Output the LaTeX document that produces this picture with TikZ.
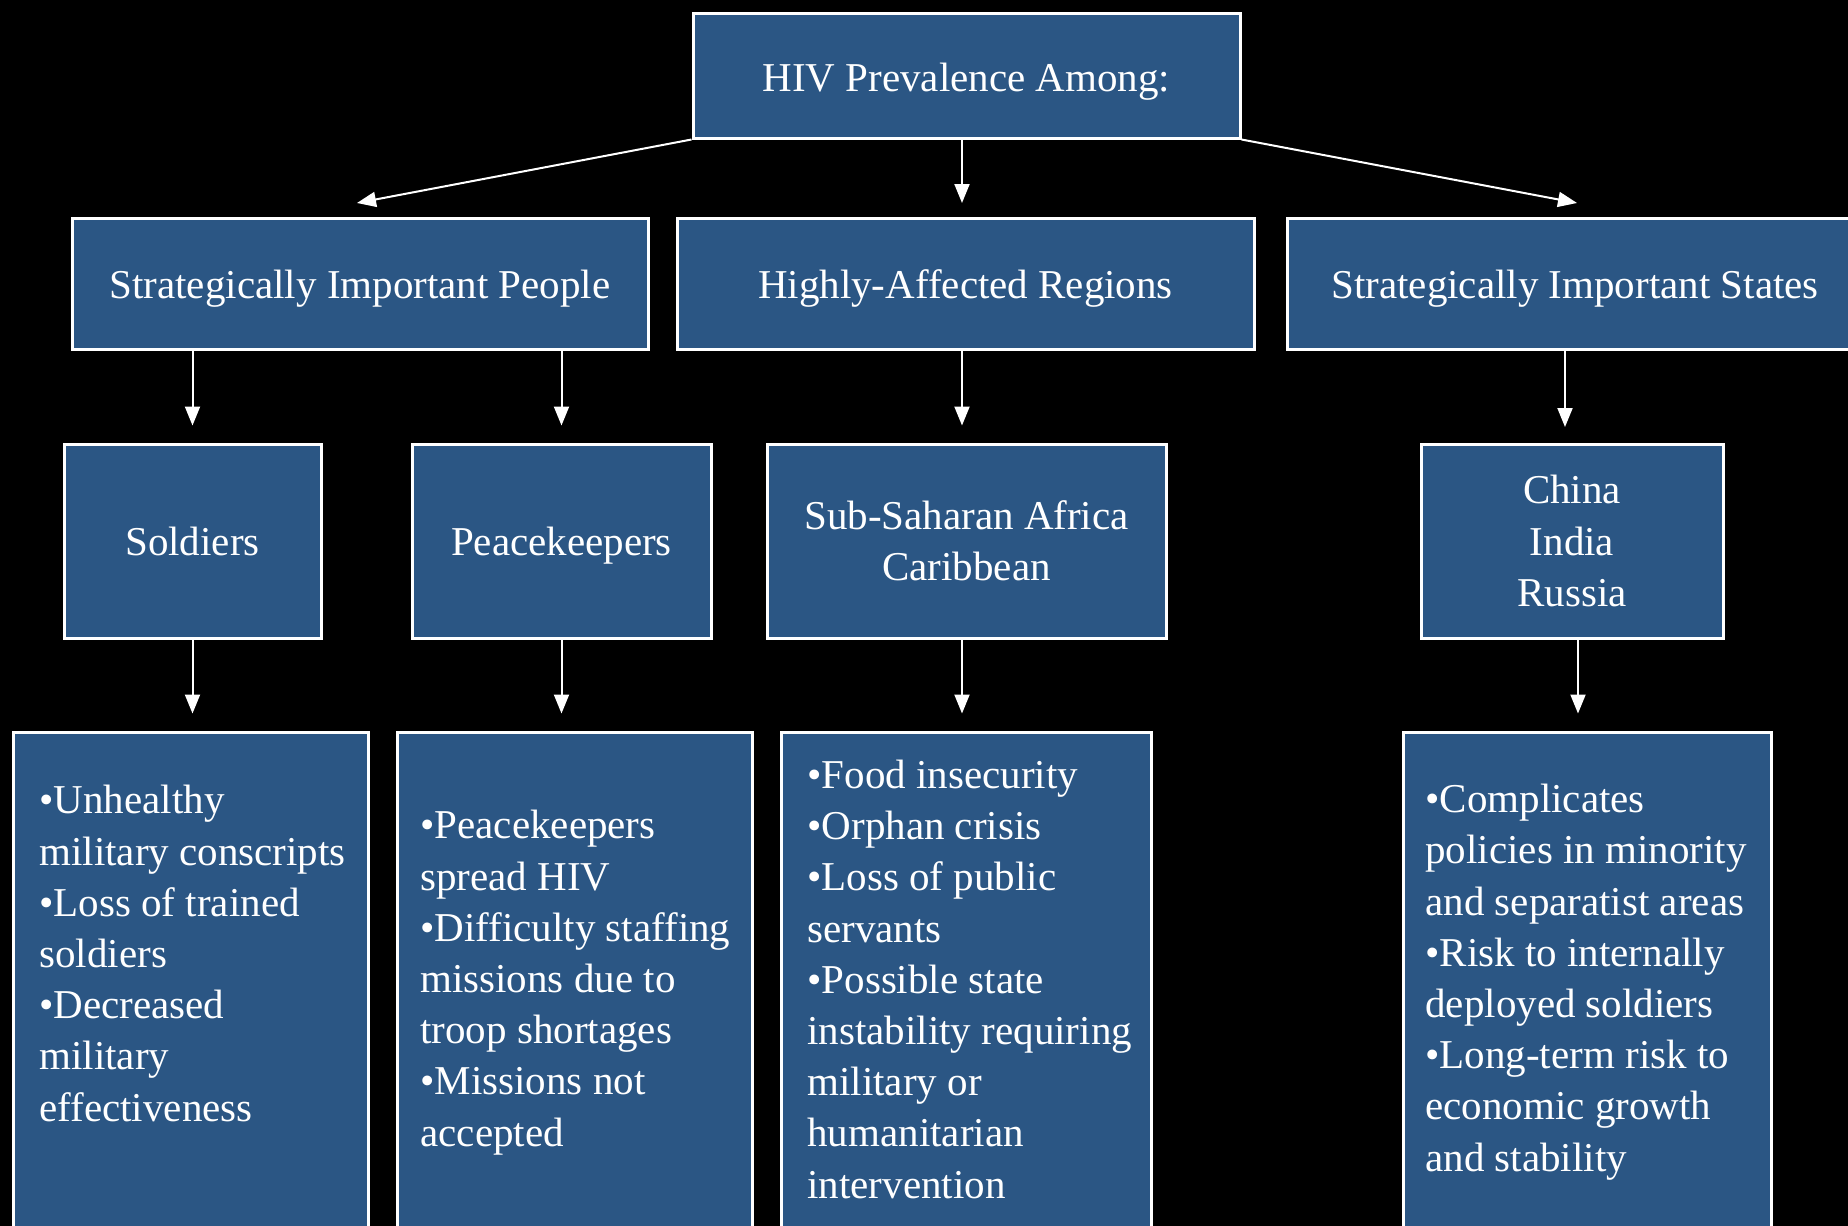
\documentclass[tikz,border=0pt]{standalone}
\usepackage{fontspec}
\setmainfont{Liberation Serif}
\usetikzlibrary{arrows.meta}
\definecolor{boxblue}{HTML}{2B5684}
\tikzset{
  box/.style={draw=white, line width=1.5pt, fill=boxblue, inner sep=0pt,
    text=white, align=center, font=\fontsize{20.5}{25.6}\selectfont},
  txt/.style={text=white, align=left, inner sep=0pt, anchor=base west,
    font=\fontsize{20.5}{25.6}\selectfont},
  arr/.style={draw=white, line width=1pt, -{Triangle[width=7.5pt,length=9.5pt]}},
}
\begin{document}
\begin{tikzpicture}[x=0.5pt,y=-0.5pt]
\useasboundingbox (0,0) rectangle (1848,1226);
\fill[black] (0,0) rectangle (1848,1226);
\clip (0,0) rectangle (1848,1226);

% level 1
\node[box, minimum width=273.5pt, minimum height=62.5pt] (top) at (966.5,75.5) {};
\node[txt, anchor=base] (toptext) at (966.5,91) {HIV Prevalence Among:};

% level 2
\node[box, minimum width=288pt, minimum height=65.5pt] (sip) at (360,283.5) {};
\node[box, minimum width=288.5pt, minimum height=65.5pt] (har) at (965.5,283.5) {};
\node[box, minimum width=287.5pt, minimum height=65.5pt] (sis) at (1575,283.5) {};
\node[txt, anchor=base] (siptext) at (360,298) {Strategically Important People};
\node[txt, anchor=base] (hartext) at (965.5,298) {Highly-Affected Regions};
\node[txt, anchor=base] (sistext) at (1575,298) {Strategically Important States};

% level 3
\node[box, minimum width=128.5pt, minimum height=97pt] (sold) at (192.5,541) {Soldiers};
\node[box, minimum width=149.5pt, minimum height=97pt] (peace) at (561.5,541) {};
\node[txt, anchor=base] (peacetext) at (561.5,555) {Peacekeepers};
\node[box, minimum width=199.5pt, minimum height=97pt] (ssa) at (966.5,541) {Sub-Saharan Africa\\Caribbean};
\node[box, minimum width=151pt, minimum height=97pt] (china) at (1572,541) {China\\India\\Russia};

% level 4
\node[box, minimum width=177.5pt, minimum height=256.5pt] (b1) at (190.5,988.5) {};
\node[box, minimum width=177.5pt, minimum height=256.5pt] (b2) at (574.5,988.5) {};
\node[box, minimum width=185pt, minimum height=256.5pt] (b3) at (966,988.5) {};
\node[box, minimum width=184pt, minimum height=256.5pt] (b4) at (1587,988.5) {};

% texts: anchored at the baseline of their last line
\node[txt] (t1) at (39,1121) {•Unhealthy\\military conscripts\\•Loss of trained\\soldiers\\•Decreased\\military\\effectiveness};
\node[txt] (t2) at (420,1146) {•Peacekeepers\\spread HIV\\•Difficulty staffing\\missions due to\\troop shortages\\•Missions not\\accepted};
\node[txt] (t3) at (807,1198) {•Food insecurity\\•Orphan crisis\\•Loss of public\\servants\\•Possible state\\instability requiring\\military or\\humanitarian\\intervention};
\node[txt] (t4) at (1425,1171) {•Complicates\\policies in minority\\and separatist areas\\•Risk to internally\\deployed soldiers\\•Long-term risk to\\economic growth\\and stability};

% connectors level 1 -> 2
\coordinate (e1) at (357,203);
\coordinate (e3) at (1577,203);
\coordinate (e2) at (962,203);
\draw[arr] (top.south west) -- (e1);
\draw[arr] (top.south -| e2) -- (e2);
\draw[arr] (top.south east) -- (e3);

% level 2 -> 3
\draw[arr, shorten >=8.5pt] (sip.south -| sold.north) -- (sold.north);
\draw[arr, shorten >=8.5pt] (sip.south -| peace.north) -- (peace.north);
\draw[arr, shorten >=8.5pt] (e2 |- har.south) -- (e2 |- ssa.north);
\coordinate (c4) at (1565,444);
\draw[arr, shorten >=8.5pt] (sis.south -| c4) -- (c4);

% level 3 -> 4
\draw[arr, shorten >=8.5pt] (sold.south) -- (sold.south |- b1.north);
\draw[arr, shorten >=8.5pt] (peace.south) -- (peace.south |- b2.north);
\draw[arr, shorten >=8.5pt] (e2 |- ssa.south) -- (e2 |- b3.north);
\coordinate (c5) at (1578,638);
\draw[arr, shorten >=8.5pt] (c5) -- (c5 |- b4.north);
\end{tikzpicture}
\end{document}
